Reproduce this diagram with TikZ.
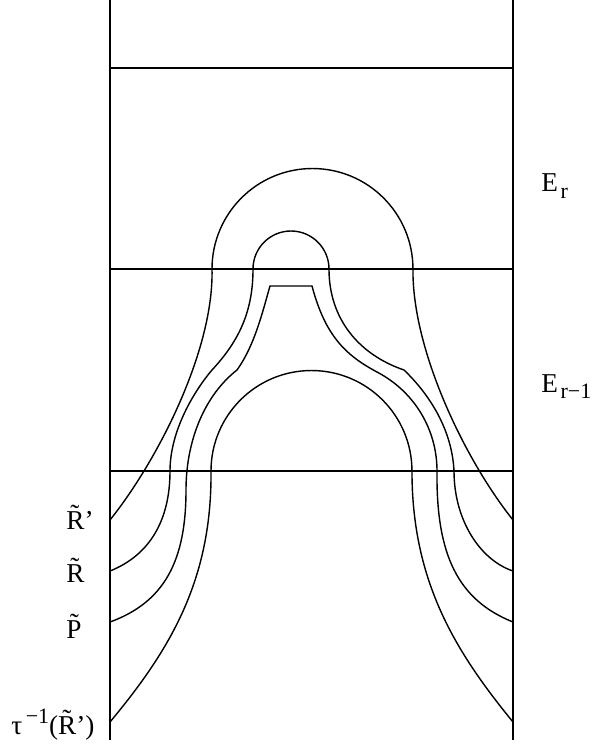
\documentclass[tikz,border=0pt]{standalone}
\usepackage{fontspec}
\setmainfont{Liberation Serif}
\usepackage{tikz}

\newcommand{\lowidx}[1]{\kern1.5pt\raisebox{-0.5ex}{\fontsize{12.5}{12.5}\selectfont #1}}
\newcommand{\highidx}[1]{\kern2pt\raisebox{0.85ex}{\fontsize{12.5}{12.5}\selectfont #1}}

\begin{document}
\begin{tikzpicture}[
  x=0.02cm, y=-0.02cm,
  frame/.style={line width=0.8pt},
  curve/.style={line width=0.8pt},
  lbl/.style={inner sep=0pt, anchor=base west, font=\fontsize{15.5}{18}\selectfont},
]
  \useasboundingbox (0,0) rectangle (592,746);

  % Frame
  \draw[frame] (110,0) -- (110,740);
  \draw[frame] (513,0) -- (513,740);
  \draw[frame] (110,68) -- (513,68);
  \draw[frame] (110,269) -- (513,269);
  \draw[frame] (110,471) -- (513,471);

  % Outer cap
  \draw[curve] (110,520) .. controls (158,460) and (214,350) .. (212,269)
    arc[start angle=180, end angle=0, radius=2.01cm]
    .. controls (412,350) and (465,460) .. (513,520);

  % Small cap
  \draw[curve] (110,571) .. controls (150,555) and (170,520) .. (170,471)
    .. controls (170,430) and (195,390) .. (212,370)
    .. controls (240,340) and (253,310) .. (253,269)
    arc[start angle=180, end angle=0, radius=0.76cm]
    .. controls (329,320) and (360,355) .. (404,370)
    .. controls (430,395) and (452,430) .. (454,471)
    .. controls (454,520) and (480,560) .. (513,571);

  % Flat top
  \draw[curve] (110,622) .. controls (165,602) and (186,560) .. (186,490)
    .. controls (186,440) and (205,395) .. (237,370)
    .. controls (255,345) and (263,310) .. (270,286)
    -- (312,286)
    .. controls (325,335) and (345,355) .. (377,372)
    .. controls (415,392) and (437,430) .. (437,471)
    .. controls (436,555) and (458,600) .. (513,622);

  % Inner arch
  \draw[curve] (110,722) .. controls (170,650) and (212,580) .. (211,471)
    arc[start angle=180, end angle=0, radius=2.01cm]
    .. controls (412,580) and (454,650) .. (513,722);

  % Labels
  \node[lbl] (er) at (541,192) {E\lowidx{r}};
  \node[lbl] (erm) at (541,392) {E\lowidx{r−1}};
  \node[lbl] (rtp) at (66,529) {\~{R}’};
  \node[lbl] (rt) at (66,582) {\~{R}};
  \node[lbl] (pt) at (66,638) {\~{P}};
  \node[lbl] (tau) at (11,734) {τ\highidx{−1}(\~{R}’)};
\end{tikzpicture}
\end{document}
